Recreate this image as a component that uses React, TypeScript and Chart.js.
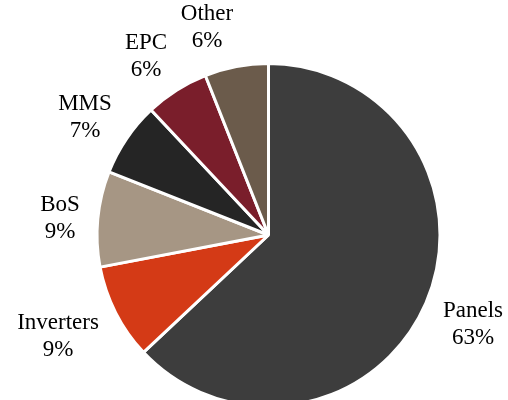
import React, { useEffect, useRef } from "react";
import { Chart, registerables } from "chart.js";

Chart.register(...registerables);

const categories = ["Panels", "Inverters", "BoS", "MMS", "EPC", "Other"];
const shares = [63, 9, 9, 7, 6, 6];
const sliceColors = ["#3d3d3d", "#d43a16", "#a69684", "#252525", "#7a1e2b", "#6b5b4b"];

const FONT_SIZE = 23;
const LINE_HEIGHT = 27;
const LABEL_GAP = 20;
const FONT = `${FONT_SIZE}px "Liberation Serif"`;

const outsideLabels = {
  id: "outsideLabels",
  afterDraw(chart: any) {
    const ctx = chart.ctx as CanvasRenderingContext2D;
    const meta = chart.getDatasetMeta(0);
    ctx.save();
    ctx.font = FONT;
    ctx.fillStyle = "#000000";
    ctx.textAlign = "center";
    ctx.textBaseline = "alphabetic";
    const capH = FONT_SIZE * 0.662;
    const halfH = (capH + LINE_HEIGHT) / 2 + 4;
    meta.data.forEach((arc: any, i: number) => {
      const { x, y, startAngle, endAngle, outerRadius } = arc.getProps(
        ["x", "y", "startAngle", "endAngle", "outerRadius"],
        true
      );
      const mid = (startAngle + endAngle) / 2;
      const dx = Math.cos(mid);
      const dy = Math.sin(mid);
      const lines = [categories[i], `${shares[i]}%`];
      const w = Math.max(...lines.map((l) => ctx.measureText(l).width));
      const halfW = w / 2;
      const R = outerRadius - 1.5 + LABEL_GAP;
      const cx = x + dx * R + Math.sign(dx) * halfW;
      const cy = y + dy * R + dy * halfH + 2;
      const base1 = Math.round(cy + (capH - LINE_HEIGHT) / 2);
      const px = Math.round(cx);
      ctx.fillText(lines[0], px, base1);
      ctx.fillText(lines[1], px, base1 + LINE_HEIGHT);
    });
    ctx.restore();
  },
};

export default function App() {
  const ref = useRef<HTMLCanvasElement | null>(null);
  useEffect(() => {
    document.body.style.margin = "0";
    if (!ref.current) return;
    const chart = new Chart(ref.current, {
      type: "pie",
      data: {
        labels: categories,
        datasets: [
          {
            data: shares,
            backgroundColor: sliceColors,
            borderColor: "#ffffff",
            borderWidth: 3,
            hoverBorderWidth: 3,
          },
        ],
      },
      options: {
        responsive: false,
        animation: false,
        devicePixelRatio: 1,
        layout: { padding: { left: 95.5, right: 66.5, top: 62, bottom: 12 } },
        plugins: {
          legend: { display: false },
          tooltip: { enabled: false },
        },
      },
      plugins: [outsideLabels],
    });
    return () => chart.destroy();
  }, []);
  return (
    <div
      style={{
        position: "absolute",
        left: 0,
        top: 0,
        width: 508,
        height: 400,
        overflow: "hidden",
        background: "#ffffff",
      }}
    >
      <canvas ref={ref} width={508} height={420} style={{ display: "block" }} />
    </div>
  );
}
